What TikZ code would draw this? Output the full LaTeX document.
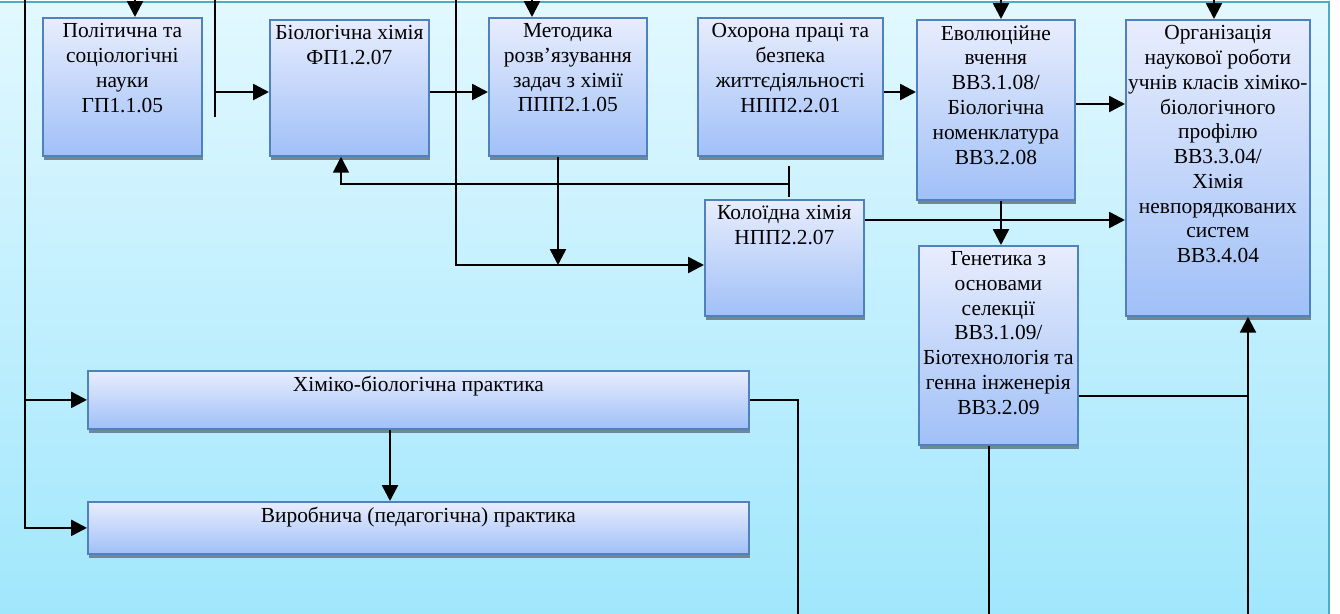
\documentclass[tikz,border=0pt]{standalone}
\usepackage{fontspec}
\setmainfont{Liberation Serif}
\usetikzlibrary{positioning,shadows,arrows.meta}

\definecolor{bgTop}{RGB}{226,248,255}
\definecolor{bgBottom}{RGB}{158,230,252}
\definecolor{frameTeal}{RGB}{75,172,198}
\definecolor{boxTop}{RGB}{232,237,253}
\definecolor{boxBottom}{RGB}{160,192,247}
\definecolor{boxLine}{RGB}{79,129,189}
\definecolor{boxShadow}{RGB}{112,136,150}

\newlength{\px}
\setlength{\px}{0.02cm}

\tikzset{
  blk/.style 2 args={draw=boxLine, line width=1pt, top color=boxTop, bottom color=boxBottom,
    drop shadow={shadow xshift=0.3mm, shadow yshift=-0.8mm, fill=boxShadow, opacity=1},
    anchor=north west, inner sep=0pt, minimum width=#1\px, minimum height=#2\px},
  txt/.style={align=center, anchor=north, inner sep=0pt, font=\fontsize{12.2pt}{14.1pt}\selectfont},
  arr/.style={line width=1.4pt, -{Triangle[length=9pt,width=9pt]}},
  wire/.style={line width=1.1pt},
}

\begin{document}
\begin{tikzpicture}[x=0.02cm, y=-0.02cm]
  \useasboundingbox (0,0) rectangle (1340,613);
  % background
  \fill[top color=bgTop, bottom color=bgBottom] (-20,2) rectangle (1329,640);
  \draw[frameTeal, line width=1.2pt] (-20,2) -- (1329,2) -- (1329,640);

  % boxes
  \node[blk={159}{138}] (pol) at (42,17) {};
  \node[blk={159}{136}] (bio) at (269,19) {};
  \node[blk={158}{138}] (met) at (488,17) {};
  \node[blk={185}{138}] (okh) at (697,17) {};
  \node[blk={159}{116}] (kol) at (704,199) {};
  \node[blk={158}{180}] (evo) at (916,19) {};
  \node[blk={184}{296}] (org) at (1125,19) {};
  \node[blk={159}{199}] (gen) at (918,245) {};
  \node[blk={661}{58}] (prac) at (87,370) {};
  \node[blk={661}{52}] (vyr) at (87,501) {};

  \node[txt, below=3.5pt of pol.north] (polT) {Політична та\\соціологічні\\науки\\ГП1.1.05};
  \node[txt, below=3.5pt of bio.north] (bioT) {Біологічна хімія\\ФП1.2.07};
  \node[txt, below=3.5pt of met.north] (metT) {Методика\\розв’язування\\задач з хімії\\ППП2.1.05};
  \node[txt, below=3.5pt of okh.north] (okhT) {Охорона праці та\\безпека\\життєдіяльності\\НПП2.2.01};
  \node[txt, below=3.5pt of kol.north] (kolT) {Колоїдна хімія\\НПП2.2.07};
  \node[txt, below=3.5pt of evo.north] (evoT) {Еволюційне\\вчення\\ВВ3.1.08/\\Біологічна\\номенклатура\\ВВ3.2.08};
  \node[txt, below=3.5pt of org.north] (orgT) {Організація\\наукової роботи\\учнів класів хіміко-\\біологічного\\профілю\\ВВ3.3.04/\\Хімія\\невпорядкованих\\систем\\ВВ3.4.04};
  \node[txt, below=3.5pt of gen.north] (genT) {Генетика з\\основами\\селекції\\ВВ3.1.09/\\Біотехнологія та\\генна інженерія\\ВВ3.2.09};
  \node[txt, below=3.5pt of prac.north] (pracT) {Хіміко-біологічна практика};
  \node[txt, below=3.5pt of vyr.north] (vyrT) {Виробнича (педагогічна) практика};

  % free ends of the lines
  \coordinate (topA) at (25,-10);
  \coordinate (topB) at (135,-10);
  \coordinate (topC) at (215,-10);
  \coordinate (endC) at (215,117);
  \coordinate (rowA) at (215,92);
  \coordinate (topD) at (456,-10);
  \coordinate (rowB) at (456,265);
  \coordinate (topE) at (532,-10);
  \coordinate (colA) at (558,265);
  \coordinate (fbTop) at (789,166);
  \coordinate (fbBot) at (789,197);
  \coordinate (fbLeft) at (341,184);
  \coordinate (topF) at (1001,-10);
  \coordinate (topG) at (1214,-10);
  \coordinate (rowC) at (1100,104);
  \coordinate (rowD) at (1000,220);
  \coordinate (rowE) at (1248,396);
  \coordinate (botA) at (798,640);
  \coordinate (botB) at (989,640);
  \coordinate (botC) at (1248,640);
  \coordinate (colB) at (390,450);

  % connectors
  \draw[arr] (topA) |- (vyr.west);
  \draw[arr] (topA |- prac.west) -- (prac.west);
  \draw[arr] (topB) -- (topB |- pol.north);
  \draw[wire] (topC) -- (endC);
  \draw[arr] (rowA) -- (rowA -| bio.west);
  \draw[arr] (rowA -| bio.east) -- (rowA -| met.west);
  \draw[arr] (topD) |- (rowB -| kol.west);
  \draw[arr] (topE) -- (topE |- met.north);
  \draw[arr] (colA |- met.south) -- (colA);
  \draw[wire] (fbTop) -- (fbBot);
  \draw[arr, wire] (fbLeft -| fbTop) -- (fbLeft) -- (fbLeft |- bio.south);
  \draw[arr] (rowA -| okh.east) -- (rowA -| evo.west);
  \draw[arr] (topF) -- (topF |- evo.north);
  \draw[arr] (topG) -- (topG |- org.north);
  \draw[arr] (rowC -| evo.east) -- (rowC -| org.west);
  \draw[arr] (rowD -| kol.east) -- (rowD -| org.west);
  \draw[arr] (topF |- evo.south) -- (topF |- gen.north);
  \draw[wire] (rowE -| gen.east) -- (rowE);
  \draw[arr] (botC) -- (botC |- org.south);
  \draw[wire] (botB |- gen.south) -- (botB);
  \draw[wire] (prac.east) -| (botA);
  \draw[arr] (colB |- prac.south) -- (colB |- vyr.north);
\end{tikzpicture}
\end{document}
